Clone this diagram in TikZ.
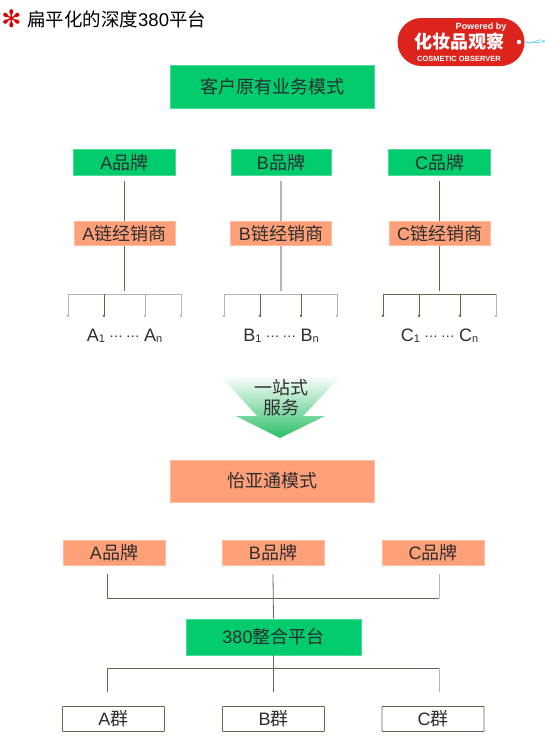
\documentclass[tikz,border=0pt]{standalone}
\usepackage{fontspec}
\setmainfont{Noto Sans CJK SC}
\newfontfamily\lat{Liberation Sans}
\usetikzlibrary{arrows.meta}
\definecolor{boxgreen}{HTML}{00CC6E}
\definecolor{boxorange}{HTML}{FFA078}
\definecolor{linedark}{HTML}{6A6553}
\definecolor{linegrey}{HTML}{B4B4BC}
\definecolor{textdark}{HTML}{2E2E2E}
\definecolor{tagred}{HTML}{DC241C}
\definecolor{arrowtip}{HTML}{2CBF66}
\newcommand{\bodyfont}{\fontsize{18}{20}\selectfont}
\newcommand{\subtxt}[1]{\raisebox{-1pt}{\fontsize{11}{11}\selectfont\lat #1}}
\newcommand{\dotsgap}{\raisebox{4pt}{\fontsize{14}{14}\selectfont …\hspace{3pt}…}}
\tikzset{
  txt/.style={text=textdark,font=\bodyfont,inner sep=0pt},
  greenbox/.style={txt,fill=boxgreen,draw=boxgreen!70!white,line width=0.6pt},
  orangebox/.style={txt,fill=boxorange,draw=boxorange!70!white,line width=0.6pt},
  groupbox/.style={txt,fill=white,draw=linedark,line width=0.9pt,rounded corners=0.8pt,minimum width=102pt,minimum height=25pt},
  brand/.style={minimum width=102pt,minimum height=26pt},
  link/.style={draw=linedark,line width=0.8pt},
  pale/.style={draw=linegrey,line width=1.2pt},
  tick/.style={link,-{Circle[length=2.4pt]}},
  ptick/.style={pale,line width=0.9pt,-{Circle[length=2.4pt]}}
}
\begin{document}
\begin{tikzpicture}[x=1pt,y=-1pt]
  \useasboundingbox (0,0) rectangle (545,742);

  \node[text=red!85!black,font=\fontsize{24}{24}\selectfont,inner sep=0pt] (star) at (11.5,19) {\fontspec{DejaVu Sans}\bfseries ✻};
  \node[anchor=west,text=black,font=\fontsize{18.5}{20}\selectfont,inner sep=0pt] (title) at (27,19) {扁平化的深度{\lat 380}平台};

  \node[fill=tagred,rounded corners=24pt,minimum width=127pt,minimum height=48pt,inner sep=0pt] (tag) at (461,42) {};
  \node[text=white,font=\fontsize{9}{10}\selectfont\bfseries\lat,inner sep=0pt] (tagby) at (481,27) {Powered by};
  \node[text=white,font=\fontsize{18}{20}\selectfont\bfseries,inner sep=0pt] (tagname) at (459,42) {化妆品观察};
  \node[text=white,font=\fontsize{7.5}{8}\selectfont\bfseries\lat,inner sep=0pt] (tagen) at (459,59) {COSMETIC OBSERVER};
  \node[circle,fill=white,minimum size=4.5pt,inner sep=0pt] (taghole) at (519,42) {};
  \coordinate (tagend) at (545,41);
  \draw[cyan!55!white,line width=0.7pt] (tag.east) .. controls (532,46) and (537,37) .. (tagend);
  \draw[cyan!55!white,line width=0.7pt] (tag.east) .. controls (532,42) and (537,44) .. (tagend);

  \node[greenbox,minimum width=204pt,minimum height=43pt] (top) at (272,87) {客户原有业务模式};

  \node[greenbox,brand] (a) at (124.5,162.5) {{\lat A}品牌};
  \node[greenbox,brand,minimum width=100pt] (b) at (281,162.5) {{\lat B}品牌};
  \node[greenbox,brand] (c) at (439.5,162.5) {{\lat C}品牌};

  \node[orangebox,brand,minimum width=101pt,minimum height=24pt] (da) at (124.5,233.5) {{\lat A}链经销商};
  \node[orangebox,brand,minimum width=101pt,minimum height=24pt] (db) at (281,233.5) {{\lat B}链经销商};
  \node[orangebox,brand,minimum width=101pt,minimum height=24pt] (dc) at (439.5,233.5) {{\lat C}链经销商};

  \draw[link] ([yshift=-5pt]a.south) -- (da.north);
  \draw[pale] ([yshift=-5pt]b.south) -- (db.north);
  \draw[link] ([yshift=-5pt]c.south) -- (dc.north);
  \draw[link] (da.south) -- ([yshift=-45pt]da.south);
  \draw[pale] (db.south) -- ([yshift=-45pt]db.south);
  \draw[link] (dc.south) -- ([yshift=-45pt]dc.south);

  \coordinate (a1) at (68,294);
  \coordinate (a2) at (104,294);
  \coordinate (a3) at (145,294);
  \coordinate (a4) at (181,294);
  \draw[pale,line width=0.9pt] (a1) -- (a4);
  \draw[ptick] (a1) -- ([yshift=-23pt]a1);
  \draw[tick] (a2) -- ([yshift=-23pt]a2);
  \draw[ptick] (a3) -- ([yshift=-23pt]a3);
  \draw[ptick] (a4) -- ([yshift=-23pt]a4);

  \coordinate (b1) at (224,294);
  \coordinate (b2) at (260,294);
  \coordinate (b3) at (301,294);
  \coordinate (b4) at (337,294);
  \draw[pale,line width=0.9pt] (b1) -- (b4);
  \draw[ptick] (b1) -- ([yshift=-23pt]b1);
  \draw[tick] (b2) -- ([yshift=-23pt]b2);
  \draw[tick] (b3) -- ([yshift=-23pt]b3);
  \draw[ptick] (b4) -- ([yshift=-23pt]b4);

  \coordinate (c1) at (383,294);
  \coordinate (c2) at (419,294);
  \coordinate (c3) at (460,294);
  \coordinate (c4) at (496,294);
  \draw[link] (c1) -- (c4);
  \draw[tick] (c1) -- ([yshift=-23pt]c1);
  \draw[tick] (c2) -- ([yshift=-23pt]c2);
  \draw[tick] (c3) -- ([yshift=-23pt]c3);
  \draw[ptick] (c4) -- ([yshift=-23pt]c4);

  \node[txt] (la) at (124.5,336) {\lat A\subtxt{1}\hspace{4pt}{\dotsgap}\hspace{4pt}A\subtxt{n}};
  \node[txt] (lb) at (281,336) {\lat B\subtxt{1}\hspace{4pt}{\dotsgap}\hspace{4pt}B\subtxt{n}};
  \node[txt] (lc) at (439.5,336) {\lat C\subtxt{1}\hspace{4pt}{\dotsgap}\hspace{4pt}C\subtxt{n}};

  \shade[top color=white,middle color=arrowtip!40!white,bottom color=arrowtip,shading angle=0] (220,375) -- (342,375) -- (303,416) -- (325,416) -- (280,438) -- (236,416) -- (257,416) -- cycle;
  \node[txt] (one) at (281,388) {一站式};
  \node[txt] (svc) at (281,408) {服务};

  \node[orangebox,minimum width=204pt,minimum height=42pt] (mid) at (272,481) {怡亚通模式};

  \node[orangebox,brand,minimum height=25pt] (pa) at (114,552.5) {{\lat A}品牌};
  \node[orangebox,brand,minimum height=25pt] (pb) at (273,552.5) {{\lat B}品牌};
  \node[orangebox,brand,minimum height=25pt] (pc) at (433,552.5) {{\lat C}品牌};

  \node[greenbox,minimum width=175pt,minimum height=36pt] (hub) at (273.5,637) {{\lat 380}整合平台};

  \coordinate (pa1) at (107,574);
  \coordinate (pc1) at (439,574);
  \coordinate (pa2) at (107,598);
  \coordinate (pc2) at (439,598);
  \draw[link] (pa1) -- (pa2) -- (pc2);
  \draw[pale,line width=0.9pt] (pc1) -- (pc2);
  \draw[link] ([yshift=-9pt]pb.south) -- (hub.north);

  \node[groupbox] (qa) at (113.5,719) {{\lat A}群};
  \node[groupbox] (qb) at (273.5,719) {{\lat B}群};
  \node[groupbox] (qc) at (433,719) {{\lat C}群};

  \coordinate (qa1) at (107,668);
  \coordinate (qc1) at (439,668);
  \coordinate (qa2) at (107,692);
  \coordinate (qc2) at (439,692);
  \draw[link] (qa2) -- (qa1) -- (qc1);
  \draw[pale,line width=0.9pt] (qc1) -- (qc2);
  \draw[link] (hub.south) -- ([yshift=-37pt]hub.south);
\end{tikzpicture}
\end{document}
